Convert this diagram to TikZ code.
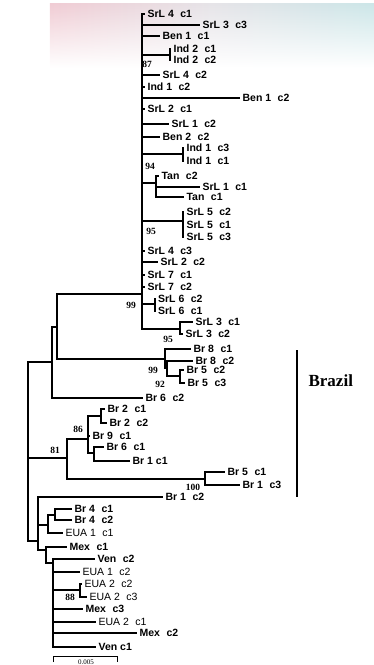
\documentclass[tikz,border=0pt]{standalone}
\usepackage{fontspec}
\setmainfont{Liberation Serif}
\newfontfamily\leaffont{Liberation Sans}
\usetikzlibrary{fadings}
\definecolor{washpink}{RGB}{240,204,212}
\definecolor{washgray}{RGB}{230,228,232}
\definecolor{washteal}{RGB}{204,230,232}
\newcommand{\isolate}[2]{#1\hspace{6.5pt}#2}

\begin{document}
\begin{tikzpicture}[x=1pt,y=-1pt,line width=1.2pt,
    leaf/.style={anchor=west,inner sep=2pt,font=\leaffont\bfseries\fontsize{10.5}{12}\selectfont},
    leafreg/.style={leaf,font=\leaffont\fontsize{10.5}{12}\selectfont},
    boot/.style={inner sep=0pt,font=\bfseries\fontsize{9.5}{11}\selectfont}]
  \useasboundingbox (0,0) rectangle (374,665);
  \shade[left color=washpink,right color=washteal,middle color=washgray,path fading=south] (50,4) rectangle (374,68);

  % Sri Lanka / India / Bangladesh / Tanzania
  \coordinate (nSrL) at (142,294);
  \node[leaf] (srl4c1) at (145,14) {\isolate{SrL 4}{c1}};
  \node[leaf] (srl3c3) at (200,25) {\isolate{SrL 3}{c3}};
  \node[leaf] (ben1c1) at (160,36) {\isolate{Ben 1}{c1}};
  \coordinate (nInd2) at (170,55);
  \node[leaf] (ind2c1) at (171,49) {\isolate{Ind 2}{c1}};
  \node[leaf] (ind2c2) at (171,60) {\isolate{Ind 2}{c2}};
  \node[leaf] (srl4c2) at (160,75) {\isolate{SrL 4}{c2}};
  \node[leaf] (ind1c2) at (145,87) {\isolate{Ind 1}{c2}};
  \node[leaf] (ben1c2) at (240,98) {\isolate{Ben 1}{c2}};
  \node[leaf] (srl2c1) at (145,109) {\isolate{SrL 2}{c1}};
  \node[leaf] (srl1c2) at (169,124) {\isolate{SrL 1}{c2}};
  \node[leaf] (ben2c2) at (160,137) {\isolate{Ben 2}{c2}};
  \coordinate (nInd1) at (183,154);
  \node[leaf] (ind1c3) at (184,148) {\isolate{Ind 1}{c3}};
  \node[leaf] (ind1c1) at (184,161) {\isolate{Ind 1}{c1}};
  \coordinate (nTan) at (156,183);
  \node[leaf] (tanc2) at (159,176) {\isolate{Tan}{c2}};
  \node[leaf] (srl1c1) at (200,187) {\isolate{SrL 1}{c1}};
  \node[leaf] (tanc1) at (184,197) {\isolate{Tan}{c1}};
  \coordinate (nSrL5) at (183,221);
  \node[leaf] (srl5c2) at (184,212) {\isolate{SrL 5}{c2}};
  \node[leaf] (srl5c1) at (184,225) {\isolate{SrL 5}{c1}};
  \node[leaf] (srl5c3) at (184,237) {\isolate{SrL 5}{c3}};
  \node[leaf] (srl4c3) at (145,251) {\isolate{SrL 4}{c3}};
  \node[leaf] (srl2c2) at (158,262) {\isolate{SrL 2}{c2}};
  \node[leaf] (srl7c1) at (145,275) {\isolate{SrL 7}{c1}};
  \node[leaf] (srl7c2) at (145,287) {\isolate{SrL 7}{c2}};
  \coordinate (nSrL6) at (155,304);
  \node[leaf] (srl6c2) at (155.5,299) {\isolate{SrL 6}{c2}};
  \node[leaf] (srl6c1) at (155.5,311) {\isolate{SrL 6}{c1}};
  \coordinate (nSrL3) at (180,329);
  \node[leaf] (srl3c1) at (193,322) {\isolate{SrL 3}{c1}};
  \node[leaf] (srl3c2) at (183,334) {\isolate{SrL 3}{c2}};

  \draw (nSrL) |- (srl4c1) (nSrL) |- (srl3c3) (nSrL) |- (ben1c1) (nSrL) |- (nInd2)
        (nSrL) |- (srl4c2) (nSrL) |- (ind1c2) (nSrL) |- (ben1c2) (nSrL) |- (srl2c1)
        (nSrL) |- (srl1c2) (nSrL) |- (ben2c2) (nSrL) |- (nInd1) (nSrL) |- (nTan)
        (nSrL) |- (nSrL5) (nSrL) |- (srl4c3) (nSrL) |- (srl2c2) (nSrL) |- (srl7c1)
        (nSrL) |- (srl7c2) (nSrL) |- (nSrL6) (nSrL) |- (nSrL3);
  \draw (nInd2) |- (ind2c1) (nInd2) |- (ind2c2);
  \draw (nInd1) |- (ind1c3) (nInd1) |- (ind1c1);
  \draw (nTan) |- (tanc2) (nTan) |- (srl1c1) (nTan) |- (tanc1);
  \draw (nSrL5) |- (srl5c2) (nSrL5) |- (srl5c1) (nSrL5) |- (srl5c3);
  \draw (nSrL6) |- (srl6c2) (nSrL6) |- (srl6c1);
  \draw (nSrL3) |- (srl3c1) (nSrL3) |- (srl3c2);

  % Brazil
  \coordinate (nBrA) at (57,327);
  \coordinate (nBr8) at (165,359);
  \node[leaf] (br8c1) at (191,349) {\isolate{Br 8}{c1}};
  \coordinate (nBr8b) at (167,368);
  \node[leaf] (br8c2) at (193,361) {\isolate{Br 8}{c2}};
  \coordinate (nBr5) at (180,376);
  \node[leaf] (br5c2) at (184,370) {\isolate{Br 5}{c2}};
  \node[leaf] (br5c3) at (185,383) {\isolate{Br 5}{c3}};
  \coordinate (nBrB) at (52,362);
  \node[leaf] (br6c2) at (143,398) {\isolate{Br 6}{c2}};
  \coordinate (nRoot) at (28,440);
  \coordinate (nD) at (67,458);
  \coordinate (nE) at (88,439);
  \coordinate (nBr2) at (101,416);
  \node[leaf] (br2c1) at (105,409) {\isolate{Br 2}{c1}};
  \node[leaf] (br2c2) at (107,423) {\isolate{Br 2}{c2}};
  \node[leaf] (br9c1) at (90,436) {\isolate{Br 9}{c1}};
  \coordinate (nBr6) at (94,453);
  \node[leaf] (br6c1) at (104,447) {\isolate{Br 6}{c1}};
  \node[leaf] (br1c1) at (130,461) {Br 1 c1};
  \coordinate (nBr1) at (205,479);
  \node[leaf] (br5c1) at (225,472) {\isolate{Br 5}{c1}};
  \node[leaf] (br1c3) at (240,485) {\isolate{Br 1}{c3}};

  \draw (nBrA) |- (nSrL) (nBrA) |- (nBr8);
  \draw (nBr8) |- (br8c1) (nBr8) |- (nBr8b);
  \draw (nBr8b) |- (br8c2) (nBr8b) |- (nBr5);
  \draw (nBr5) |- (br5c2) (nBr5) |- (br5c3);
  \draw (nBrB) |- (nBrA) (nBrB) |- (br6c2);
  \draw (nD) |- (nE) (nD) |- (nBr1);
  \draw (nE) |- (nBr2) (nE) |- (br9c1) (nE) |- (nBr6);
  \draw (nBr2) |- (br2c1) (nBr2) |- (br2c2);
  \draw (nBr6) |- (br6c1) (nBr6) |- (br1c1);
  \draw (nBr1) |- (br5c1) (nBr1) |- (br1c3);

  % Brazil, Mexico, Venezuela, USA
  \coordinate (nL) at (38,541);
  \node[leaf] (br1c2) at (163,497) {\isolate{Br 1}{c2}};
  \coordinate (nBr4) at (48,525);
  \coordinate (nBr4b) at (55,515);
  \node[leaf] (br4c1) at (72,509) {\isolate{Br 4}{c1}};
  \node[leaf] (br4c2) at (72,520) {\isolate{Br 4}{c2}};
  \node[leafreg] (eua1c1) at (63,533) {\isolate{EUA 1}{c1}};
  \coordinate (nM) at (46,550);
  \node[leaf] (mexc1) at (67,547) {\isolate{Mex}{c1}};
  \coordinate (nN) at (53,563);
  \node[leaf] (venc2) at (95,559) {\isolate{Ven}{c2}};
  \node[leafreg] (eua1c2) at (80,572) {\isolate{EUA 1}{c2}};
  \coordinate (nEUA2) at (80,590);
  \node[leafreg] (eua2c2) at (82,584) {\isolate{EUA 2}{c2}};
  \node[leafreg] (eua2c3) at (87,597) {\isolate{EUA 2}{c3}};
  \node[leaf] (mexc3) at (83,609) {\isolate{Mex}{c3}};
  \node[leafreg] (eua2c1) at (96,622) {\isolate{EUA 2}{c1}};
  \node[leaf] (mexc2) at (137,633) {\isolate{Mex}{c2}};
  \node[leaf] (venc1) at (96,647) {Ven c1};

  \draw (nRoot) |- (nBrB) (nRoot) |- (nD) (nRoot) |- (nL);
  \draw (nL) |- (br1c2) (nL) |- (nBr4) (nL) |- (nM);
  \draw (nBr4) |- (nBr4b) (nBr4) |- (eua1c1);
  \draw (nBr4b) |- (br4c1) (nBr4b) |- (br4c2);
  \draw (nM) |- (mexc1) (nM) |- (nN);
  \draw (nN) |- (venc2) (nN) |- (eua1c2) (nN) |- (nEUA2) (nN) |- (mexc3)
        (nN) |- (eua2c1) (nN) |- (mexc2) (nN) |- (venc1);
  \draw (nEUA2) |- (eua2c2) (nEUA2) |- (eua2c3);

  % bootstrap values
  \node[boot] (b87) at (147,64) {87};
  \node[boot] (b94) at (150,166) {94};
  \node[boot] (b95a) at (151,231) {95};
  \node[boot] (b99a) at (131,305) {99};
  \node[boot] (b95b) at (168,339) {95};
  \node[boot] (b99b) at (153,370) {99};
  \node[boot] (b92) at (160,384) {92};
  \node[boot] (b86) at (78,429) {86};
  \node[boot] (b81) at (55,450) {81};
  \node[boot] (b100) at (193,487) {100};
  \node[boot] (b88) at (70,597) {88};

  % Brazil bracket
  \coordinate (brtop) at (297,350);
  \coordinate (brbot) at (297,497);
  \draw[line width=2pt] (brtop) -- (brbot);
  \node[anchor=west,inner sep=0pt,font=\bfseries\fontsize{17}{19}\selectfont] (brazil) at (308,381) {Brazil};

  % scale bar
  \coordinate (s0) at (53,656);
  \coordinate (s1) at (117,656);
  \draw[line width=0.8pt] ([yshift=-6pt]s0) -- (s0) -- (s1) -- ([yshift=-6pt]s1);
  \node[inner sep=0pt,font=\fontsize{7}{8}\selectfont] (scale) at (86,662) {0.005};
\end{tikzpicture}
\end{document}
